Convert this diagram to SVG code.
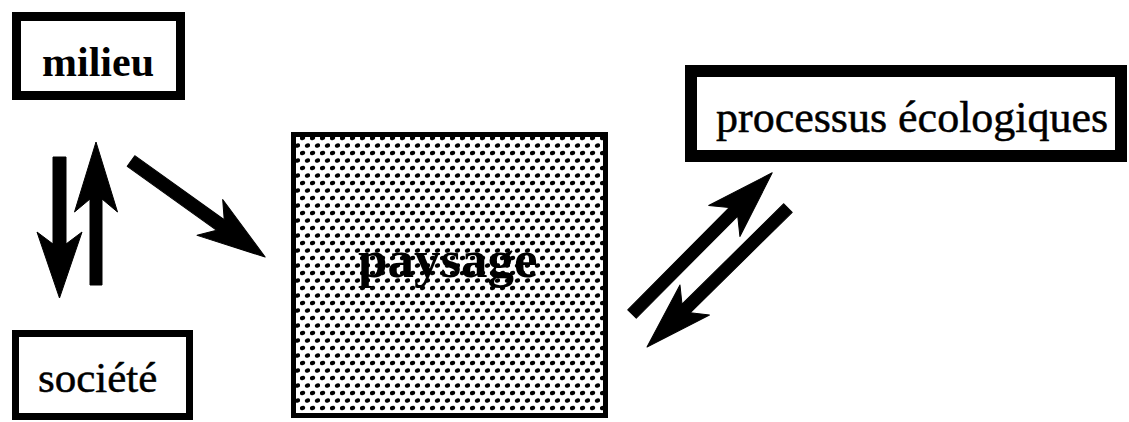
<svg xmlns="http://www.w3.org/2000/svg" width="1129" height="422" viewBox="0 0 1129 422">
  <style>
    .box { fill: #ffffff; stroke: #000000; }
    .lbl { font-family: 'Liberation Serif', 'Times New Roman', 'DejaVu Serif', serif; fill: #000000; }
    .heavy { stroke: #000000; stroke-width: 0.5; }
    .arrow { fill: #000000; stroke: #000000; stroke-width: 1; stroke-linejoin: round; }
  </style>
  <defs>
    <pattern id="stipple" x="0" y="0" width="10" height="15" patternUnits="userSpaceOnUse">
      <rect width="10" height="15" fill="#ffffff"/>
      <ellipse cx="2.5" cy="3" rx="2.7" ry="2.1" fill="#000000" transform="rotate(-20 2.5 3)"/>
      <ellipse cx="7.5" cy="10.5" rx="2.7" ry="2.1" fill="#000000" transform="rotate(-20 7.5 10.5)"/>
    </pattern>
  </defs>
  <rect width="1129" height="422" fill="#ffffff"/>

  <g id="milieu">
    <rect class="box" x="16.5" y="16.5" width="164" height="79" stroke-width="9"/>
    <text class="lbl" font-weight="bold" x="42" y="76" font-size="42">milieu</text>
  </g>

  <g id="societe">
    <rect class="box" x="15.5" y="333.5" width="174" height="83" stroke-width="7"/>
    <text class="lbl heavy" x="38" y="392" font-size="43">société</text>
  </g>

  <g id="paysage">
    <rect x="293.5" y="134.5" width="312" height="281" fill="url(#stipple)" stroke="#000000" stroke-width="5"/>
    <text class="lbl" x="358" y="277" font-weight="bold" font-size="53">paysage</text>
  </g>

  <g id="processus">
    <rect class="box" x="691" y="71" width="430" height="85" stroke-width="12"/>
    <text class="lbl heavy" x="716" y="132" font-size="44">processus écologiques</text>
  </g>

  <g id="connectors">
    <polygon class="arrow" transform="translate(59.5,157) rotate(90)" points="0,-6.5 87,-6.5 75,-22.5 141,0 75,22.5 87,6.5 0,6.5"/>
    <polygon class="arrow" transform="translate(96,285) rotate(-90)" points="0,-6 86,-6 73,-21.5 143,0 73,21.5 86,6 0,6"/>
    <polygon class="arrow" transform="translate(131,161) rotate(35.6)" points="0,-6.5 110,-6.5 97,-22 165,0 97,22 110,6.5 0,6.5"/>
    <polygon class="arrow" transform="translate(632,314) rotate(-45.2)" points="0,-6 144,-6 131,-22 199,0 131,22 144,6 0,6"/>
    <polygon class="arrow" transform="translate(788,208) rotate(135.4)" points="0,-6 143,-6 131,-21 198,0 131,21 143,6 0,6"/>
  </g>
</svg>
